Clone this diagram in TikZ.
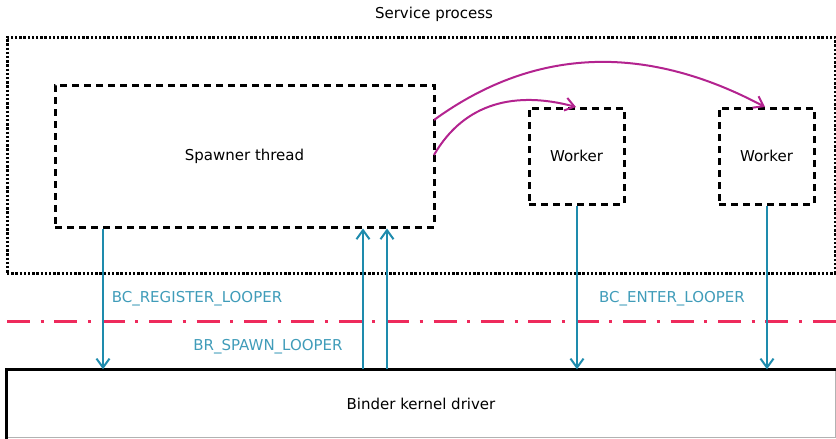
\documentclass[tikz,border=0pt]{standalone}
\usepackage{fontspec}
\setmainfont{DejaVu Sans}
\usetikzlibrary{arrows.meta}
\definecolor{callblue}{HTML}{1E8BAD}
\definecolor{spawnpink}{HTML}{B3238F}
\definecolor{boundary}{HTML}{EE2A5C}
\begin{document}
\begin{tikzpicture}[x=1pt,y=-1pt,
  every node/.style={font=\fontsize{15}{18}\selectfont, inner sep=0pt},
  thread/.style={draw=black, line width=3pt, dash pattern=on 7pt off 5pt},
  process/.style={draw=black, line width=3pt, dash pattern=on 2.4pt off 1.8pt},
  call/.style={draw=callblue, line width=2pt, -{Straight Barb[length=9pt,width=13pt,line width=2pt]}},
  spawn/.style={draw=spawnpink, line width=2pt, -{Straight Barb[length=9pt,width=13pt,line width=2pt]}},
  calltext/.style={text=callblue!85!white}]
\useasboundingbox (0,0) rectangle (836,439);

% outer process region
\node[process, minimum width=828pt, minimum height=236pt] (proc) at (421,155) {};
\node (title) at (434,14) {Service process};

% threads
\node[thread, minimum width=379pt, minimum height=142pt] (spawner) at (244.5,156) {Spawner thread};
\node[thread, minimum width=95pt, minimum height=96pt] (w1) at (576.5,156) {Worker};
\node[thread, minimum width=95pt, minimum height=96pt] (w2) at (766.5,156) {Worker};

% kernel driver
\node[minimum width=828pt, minimum height=68pt] (kernel) at (421,403.5) {Binder kernel driver};
\draw[line width=1pt, black!30] (kernel.north east) -- (kernel.south east) -- (kernel.south west);
\draw[line width=3pt, line cap=rect] (kernel.south west) -- (kernel.north west) -- (kernel.north east);

% user/kernel boundary
\coordinate (bl) at (7,321);
\coordinate (br) at (870,321);
\draw[boundary, line width=3pt, dash pattern=on 23pt off 10.5pt on 3pt off 10.9pt] (bl) -- (br);

% x positions of the calls
\coordinate (xa) at (103,0);
\coordinate (xb) at (363,0);
\coordinate (xc) at (387,0);
\coordinate (xd) at (577,0);
\coordinate (xe) at (767,0);

\draw[call] (spawner.south -| xa) -- (kernel.north -| xa);
\draw[call] (kernel.north -| xb) -- (spawner.south -| xb);
\draw[call] (kernel.north -| xc) -- (spawner.south -| xc);
\draw[call] (w1.south -| xd) -- (kernel.north -| xd);
\draw[call] (w2.south -| xe) -- (kernel.north -| xe);

\node[calltext] (lreg) at (197,299) {BC\_REGISTER\_LOOPER};
\node[calltext] (lspawn) at (268,347) {BR\_SPAWN\_LOOPER};
\node[calltext] (lenter) at (672,299) {BC\_ENTER\_LOOPER};

% spawning new workers
\coordinate (s1) at (434,120);
\coordinate (s2) at (434,155);
\coordinate (t1) at (765,107);
\coordinate (t2) at (576,107);
\draw[spawn] (s1) to[out=36, in=152, looseness=1.0] (t1);
\draw[spawn] (s2) to[out=60, in=165, looseness=1.05] (t2);
\end{tikzpicture}
\end{document}
